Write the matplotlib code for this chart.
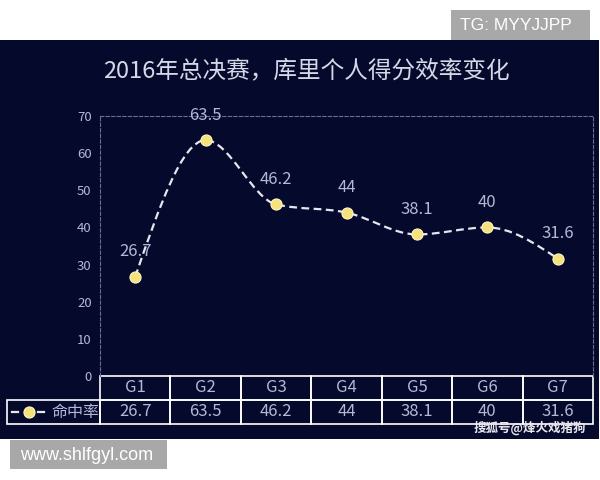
import matplotlib
matplotlib.use("Agg")
import matplotlib.pyplot as plt
import numpy as np
from matplotlib.path import Path
from matplotlib.patches import PathPatch, Rectangle
import matplotlib.transforms as mtransforms

plt.rcParams['font.family'] = ['Noto Sans CJK SC', 'DejaVu Sans']

# data
games = ['G1', 'G2', 'G3', 'G4', 'G5', 'G6', 'G7']
fg_pct = [26.7, 63.5, 46.2, 44, 38.1, 40, 31.6]
value_labels = ['26.7', '63.5', '46.2', '44', '38.1', '40', '31.6']
series_name = '命中率'
title = '2016年总决赛，库里个人得分效率变化'
y_ticks = [0, 10, 20, 30, 40, 50, 60, 70]

bg = '#050a2c'
txt_col = '#b4b8d6'
grid_col = '#6a6f92'
line_col = '#e6e6ee'
marker_col = '#f6e27a'

fig = plt.figure(figsize=(6, 4.8), dpi=100)
fig.patch.set_facecolor('white')

# dark panel
fig.add_artist(Rectangle((0, 1 - 439 / 480), 599 / 600, (439 - 40) / 480,
                         transform=fig.transFigure, facecolor=bg,
                         edgecolor='none', zorder=-5))

ax = fig.add_axes([100 / 600, 1 - 376 / 480, 493 / 600, 260 / 480])
ax.set_facecolor(bg)
ax.set_xlim(-0.5, len(games) - 0.5)
ax.set_ylim(0, 70)

for side in ['top', 'right', 'left']:
    ax.spines[side].set_color(grid_col)
    ax.spines[side].set_linewidth(0.8)
    ax.spines[side].set_linestyle((0, (3, 2)))
ax.spines['bottom'].set_visible(False)

ax.set_xticks([])
ax.set_yticks(y_ticks)
ax.set_yticklabels([str(t) for t in y_ticks])
ax.tick_params(axis='y', length=0, pad=6, labelsize=9.5, labelcolor=txt_col)

# monotone smooth line (cubic Bezier through the points)
x = np.arange(len(fg_pct), dtype=float)
y = np.array(fg_pct, dtype=float)
n = len(y)
sec = np.diff(y) / np.diff(x)
tang = np.zeros(n)
for i in range(1, n - 1):
    s0, s1 = sec[i - 1], sec[i]
    p = (s0 + s1) / 2
    tang[i] = (np.sign(s0) + np.sign(s1)) * min(abs(s0), abs(s1), 0.5 * abs(p))
tang[0] = (3 * sec[0] - tang[1]) / 2
tang[-1] = (3 * sec[-1] - tang[-2]) / 2

verts = [(x[0], y[0])]
codes = [Path.MOVETO]
for i in range(n - 1):
    dx = x[i + 1] - x[i]
    verts += [(x[i] + dx / 3, y[i] + dx * tang[i] / 3),
              (x[i + 1] - dx / 3, y[i + 1] - dx * tang[i + 1] / 3),
              (x[i + 1], y[i + 1])]
    codes += [Path.CURVE4] * 3
ax.add_patch(PathPatch(Path(verts, codes), facecolor='none', edgecolor=line_col,
                       linewidth=1.6, linestyle=(0, (3.5, 2)), zorder=3))

mk = dict(marker='o', markersize=8, markerfacecolor=marker_col,
          markeredgecolor='#fff4c8', markeredgewidth=0.8)
ax.plot(x, y, linestyle='none', zorder=4, **mk)

for xi, yi, lab in zip(x, y, value_labels):
    ax.annotate(lab, (xi, yi), xytext=(0, 18), textcoords='offset points',
                ha='center', va='center', fontsize=12, color=txt_col, zorder=5)

# data table under the plot
blend = mtransforms.blended_transform_factory(ax.transData, ax.transAxes)
row_h = 24 / 260
for i, (g, v) in enumerate(zip(games, value_labels)):
    for r, t in enumerate([g, v]):
        ax.add_patch(Rectangle((i - 0.5, -row_h * (r + 1)), 1, row_h,
                               transform=blend, facecolor='none',
                               edgecolor='white', linewidth=1.2, clip_on=False))
        ax.text(i, -row_h * (r + 0.5), t, transform=blend, ha='center',
                va='center', fontsize=12, color=txt_col)

# legend cell of the table
def px(v):
    return (v - 100) / 493

leg_y = -1.5 * row_h
ax.add_patch(Rectangle((px(7), -2 * row_h), -px(7), row_h,
                       transform=ax.transAxes, facecolor='none',
                       edgecolor='white', linewidth=1.2, clip_on=False))
for a, b in [(12, 18), (38, 44)]:
    ax.plot([px(a), px(b)], [leg_y, leg_y], transform=ax.transAxes,
            color=line_col, linewidth=1.6, clip_on=False, zorder=4)
ax.plot([px(29)], [leg_y], transform=ax.transAxes, linestyle='none',
        clip_on=False, zorder=5, **mk)
ax.text(px(75), leg_y, series_name, transform=ax.transAxes, ha='center',
        va='center', fontsize=11.5, color=txt_col)

# title
fig.text(0.51, 1 - 71 / 480, title, ha='center', va='center', fontsize=17,
         color='#d6d8e8')

# watermarks
fig.add_artist(Rectangle((451 / 600, 1 - 40 / 480), 139 / 600, 30 / 480,
                         transform=fig.transFigure, facecolor='#a8a8a8',
                         edgecolor='none', zorder=1))
fig.text(516 / 600, 1 - 25 / 480, 'TG: MYYJJPP', ha='center', va='center',
         fontsize=12.5, color='white', family='Liberation Sans', zorder=2)
fig.add_artist(Rectangle((10 / 600, 1 - 469 / 480), 157 / 600, 29 / 480,
                         transform=fig.transFigure, facecolor='#a8a8a8',
                         edgecolor='none', zorder=1))
fig.text(87 / 600, 1 - 455 / 480, 'www.shlfgyl.com', ha='center', va='center',
         fontsize=13, color='white', family='Liberation Sans', zorder=2)
fig.text(530 / 600, 1 - 428 / 480, '搜狐号@烽火戏猪狗', ha='center', va='center',
         fontsize=9, color='#e8e8ee', fontweight='bold', zorder=2)

fig.savefig('out.png', dpi=100, facecolor=fig.get_facecolor())
